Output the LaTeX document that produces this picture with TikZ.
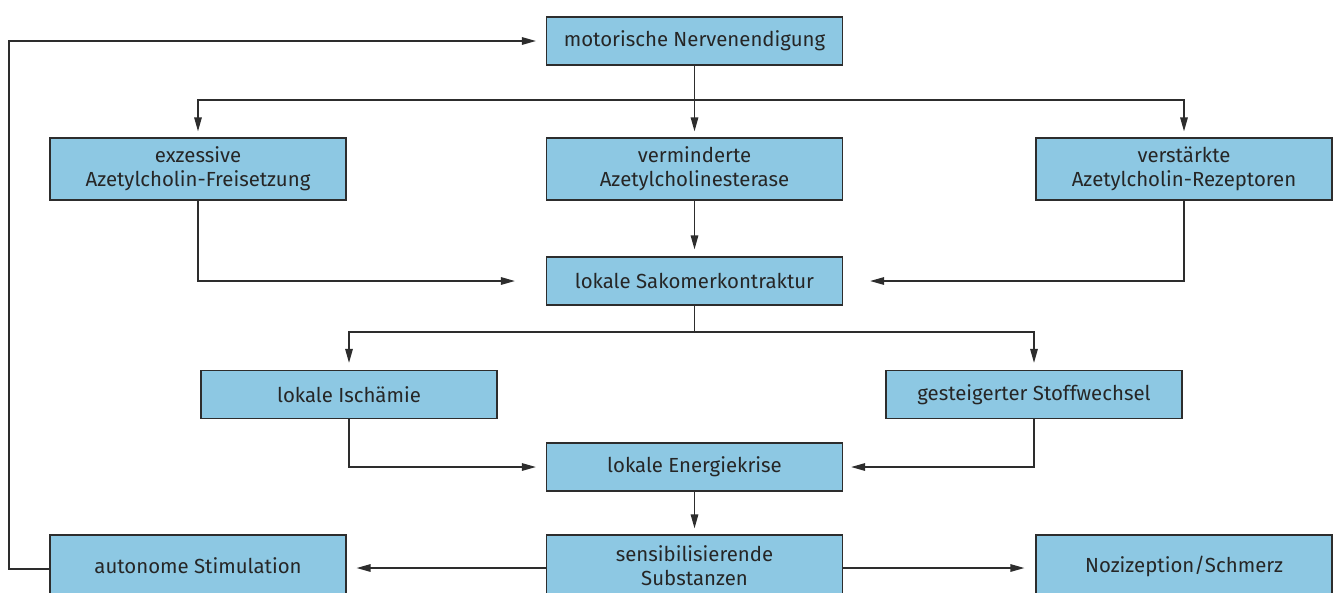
\documentclass[tikz,border=0pt]{standalone}
\usepackage{fontspec}
\setmainfont{Fira Sans}
\usetikzlibrary{arrows.meta}
\definecolor{boxblue}{RGB}{141,200,227}
\definecolor{linegray}{RGB}{45,45,45}
\begin{document}
\begin{tikzpicture}[x=0.02cm,y=-0.02cm,
    box/.style ={rectangle, draw=linegray, fill=boxblue, line width=0.7pt, text=black!85,
                 minimum width=5.92cm, minimum height=0.96cm, align=center, inner sep=0pt,
                 font=\fontsize{11.6}{13.6}\selectfont},
    tall/.style ={box, minimum height=1.24cm},
    line/.style ={draw=linegray, line width=0.8pt},
    arr/.style ={line, -{Triangle[length=2.8mm,width=1.5mm]}}]
   \useasboundingbox (0,0) rectangle (1338,592);
   \clip (0,0) rectangle (1338,592);

   \node[box] (m) at (694.5,41) {motorische Nervenendigung};
   \node[tall] (a) at (198,169) {exzessive\\Azetylcholin-Freisetzung};
   \node[tall] (b) at (694.5,169) {verminderte\\Azetylcholinesterase};
   \node[tall] (c) at (1184,169) {verstärkte\\Azetylcholin-Rezeptoren};
   \node[box] (s) at (694.5,281) {lokale Sakomerkontraktur};
   \node[box] (i) at (349,394.5) {lokale Ischämie};
   \node[box] (w) at (1034,394.5) {gesteigerter Stoffwechsel};
   \node[box] (e) at (694.5,467) {lokale Energiekrise};
   \node[tall] (n) at (198,566) {autonome Stimulation};
   \node[tall] (x) at (694.5,566) {sensibilisierende\\Substanzen};
   \node[tall] (z) at (1184,566) {Nozizeption/Schmerz};

   \coordinate (t1) at (694.5,100);
   \coordinate (t2) at (694.5,332);
   \coordinate (fb) at (9,41);

   \draw[line] (m) -- (t1);
   \draw[arr, shorten >=1.2mm] (t1) -| (a.north);
   \draw[arr, shorten >=1.2mm] (t1) -- (b.north);
   \draw[arr, shorten >=1.2mm] (t1) -| (c.north);

   \draw[arr, shorten >=6.2mm] (a.south) |- (s.west);
   \draw[arr, shorten >=1.4mm] (b) -- (s);
   \draw[arr, shorten >=5.4mm] (c.south) |- (s.east);

   \draw[line] (s) -- (t2);
   \draw[arr, shorten >=1.4mm] (t2) -| (i.north);
   \draw[arr, shorten >=1.4mm] (t2) -| (w.north);

   \draw[arr, shorten >=2mm] (i.south) |- (e.west);
   \draw[arr, shorten >=1.6mm] (w.south) |- (e.east);

   \draw[arr, shorten >=1.2mm] (e) -- (x);
   \draw[arr, shorten >=2mm] (x.west |- 0,568) -- (n.east |- 0,568);
   \draw[arr, shorten >=2.2mm] (x.east |- 0,568) -- (z.west |- 0,568);

   \draw[arr, shorten >=2mm] (n.west |- 0,569) -| (fb) -- (m.west);
 \end{tikzpicture}
\end{document}
